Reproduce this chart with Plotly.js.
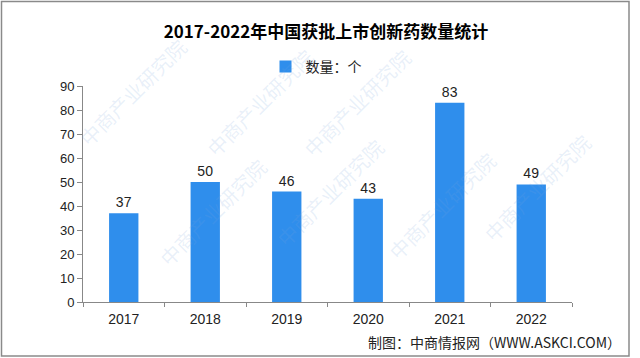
<!DOCTYPE html>
<html>
<head>
<meta charset="utf-8">
<script src="https://cdn.plot.ly/plotly-3.0.1.min.js"></script>
<style>
  html, body { margin: 0; padding: 0; background: #ffffff; }
  #chart { width: 640px; height: 358px; }
</style>
</head>
<body>
<div id="chart"></div>
<script>
const years = ['2017', '2018', '2019', '2020', '2021', '2022'];
const counts = [37, 50, 46, 43, 83, 49];
const seriesName = '数量：个';
const chartTitle = '2017-2022年中国获批上市创新药数量统计';
const sourceText = '制图：中商情报网（WWW.ASKCI.COM）';
const yTicks = [0, 10, 20, 30, 40, 50, 60, 70, 80, 90];
const watermarkText = '中商产业研究院';

const FONT = '"Liberation Sans", Arial, "Noto Sans CJK SC", sans-serif';
const CJK = '"Noto Sans CJK SC", "Liberation Sans", sans-serif';

// plot area in pixels
const L = 83, R = 572, T = 86, B = 302;
const W = R - L, H = B - T;
const px = x => (x - L) / W;
const py = y => (B - y) / H;

const trace = {
  type: 'bar',
  x: years,
  y: counts,
  name: seriesName,
  marker: { color: '#2F8EEC' },
  text: counts.map(String),
  textposition: 'outside',
  textfont: { family: FONT, size: 14, color: '#222' },
  cliponaxis: false,
  hoverinfo: 'x+y'
};

const watermarks = [
  [150, 150], [505, 143], [330, 255], [600, 250], [70, 30], [260, 40], [420, 40]
].map(([x, y]) => ({
  xref: 'paper', yref: 'paper', x: px(x), y: py(y),
  text: watermarkText, showarrow: false, textangle: -45,
  font: { family: CJK, size: 20, color: 'rgba(120,165,220,0.17)' }
}));

const layout = {
  width: 640,
  height: 358,
  paper_bgcolor: '#ffffff',
  plot_bgcolor: '#ffffff',
  margin: { l: L, r: 640 - R, t: T, b: 358 - B, pad: 0 },
  bargap: 0.64,
  title: {
    text: '<b>' + chartTitle + '</b>',
    x: 326 / 640, xanchor: 'center',
    y: 1 - 32 / 358, yanchor: 'middle',
    font: { family: CJK, size: 17, color: '#000' }
  },
  showlegend: true,
  legend: {
    orientation: 'h',
    x: px(316), xanchor: 'center',
    y: py(67), yanchor: 'middle',
    font: { family: CJK, size: 14, color: '#222' },
    itemwidth: 30
  },
  xaxis: {
    type: 'category',
    showgrid: false,
    showline: true,
    linecolor: '#888',
    linewidth: 1,
    ticks: 'outside',
    tickson: 'boundaries',
    ticklen: 4,
    tickcolor: '#888',
    ticklabelstandoff: 4,
    tickfont: { family: FONT, size: 14, color: '#222' },
    zeroline: false
  },
  yaxis: {
    range: [0, 90],
    tickvals: yTicks,
    showgrid: false,
    showline: true,
    linecolor: '#888',
    linewidth: 1,
    ticks: 'outside',
    ticklen: 5,
    tickcolor: '#888',
    tickfont: { family: FONT, size: 13, color: '#222' },
    zeroline: false
  },
  shapes: [{
    type: 'rect', xref: 'paper', yref: 'paper',
    x0: px(1.5), x1: px(629), y0: py(356), y1: py(1.5),
    line: { color: '#8a8a8a', width: 1.5 }, fillcolor: 'rgba(0,0,0,0)', layer: 'below'
  }],
  annotations: watermarks.concat([{
    xref: 'paper', yref: 'paper',
    x: px(623), xanchor: 'right',
    y: py(342), yanchor: 'middle',
    text: sourceText, showarrow: false,
    font: { family: CJK, size: 14, color: '#222' }
  }])
};

Plotly.newPlot('chart', [trace], layout, { displayModeBar: false, staticPlot: true });
</script>
</body>
</html>
